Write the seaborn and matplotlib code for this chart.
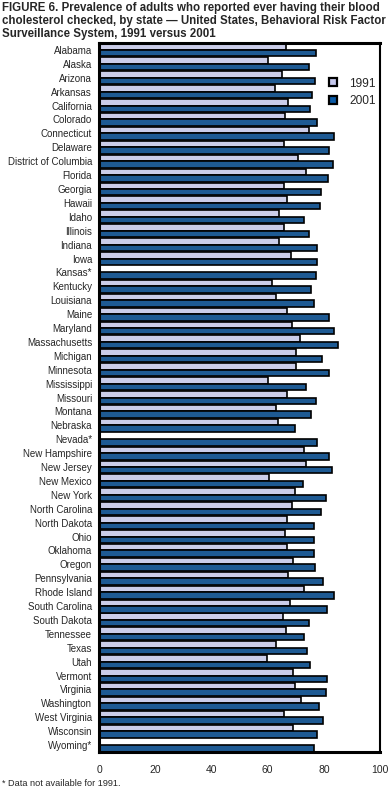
import matplotlib
matplotlib.use("Agg")
import matplotlib.pyplot as plt
import numpy as np
import pandas as pd
import seaborn as sns
from matplotlib.patches import Patch

states = ["Alabama", "Alaska", "Arizona", "Arkansas", "California", "Colorado",
          "Connecticut", "Delaware", "District of Columbia", "Florida", "Georgia",
          "Hawaii", "Idaho", "Illinois", "Indiana", "Iowa", "Kansas*", "Kentucky",
          "Louisiana", "Maine", "Maryland", "Massachusetts", "Michigan", "Minnesota",
          "Mississippi", "Missouri", "Montana", "Nebraska", "Nevada*", "New Hampshire",
          "New Jersey", "New Mexico", "New York", "North Carolina", "North Dakota",
          "Ohio", "Oklahoma", "Oregon", "Pennsylvania", "Rhode Island",
          "South Carolina", "South Dakota", "Tennessee", "Texas", "Utah", "Vermont",
          "Virginia", "Washington", "West Virginia", "Wisconsin", "Wyoming*"]

y1991 = [66.4, 60.0, 65.0, 62.5, 67.2, 66.1, 74.6, 65.7, 70.7, 73.6, 65.7,
         66.8, 64.2, 65.7, 63.9, 68.2, np.nan, 61.4, 62.9, 67.0, 68.6, 71.4,
         70.2, 70.0, 60.3, 67.0, 62.8, 63.8, np.nan, 72.8, 73.5, 60.6, 69.6,
         68.6, 67.0, 66.1, 67.0, 69.2, 67.4, 72.8, 68.1, 65.6, 66.7, 62.8,
         59.9, 68.9, 69.6, 71.8, 65.7, 68.9, np.nan]

y2001 = [77.1, 74.6, 76.8, 75.7, 75.0, 77.5, 83.5, 81.7, 83.2, 81.4, 78.9,
         78.5, 73.1, 74.6, 77.5, 77.5, 77.1, 75.3, 76.4, 81.7, 83.5, 84.9,
         79.2, 81.7, 73.5, 77.1, 75.3, 69.6, 77.5, 81.7, 82.8, 72.5, 80.7,
         78.9, 76.4, 76.4, 76.4, 76.7, 79.6, 83.5, 81.0, 74.6, 72.8, 73.9,
         75.0, 81.0, 80.7, 78.2, 79.6, 77.5, 76.4]

years = ["1991", "2001"]
colors = ["#c6c9ee", "#0b5aa6"]

df = pd.DataFrame({"state": states * 2,
                   "year": ["1991"] * len(states) + ["2001"] * len(states),
                   "pct": y1991 + y2001})

sns.set_style("white")
plt.rcParams["font.family"] = ["Liberation Sans", "DejaVu Sans"]

fig = plt.figure(figsize=(3.89, 7.91), dpi=100)
ax = fig.add_axes([0.2545, 0.0493, 0.7225, 0.8963])

sns.barplot(data=df, x="pct", y="state", hue="year", hue_order=years,
            palette=colors, orient="h", width=0.93, edgecolor="black",
            linewidth=1.2, legend=False, ax=ax)

ax.set_xlim(0, 100)
ax.set_ylim(len(states) - 0.5, -0.5)
ax.set_xticks(range(0, 101, 20))
ax.set_xticks(range(10, 100, 20), minor=True)
ax.set_xlabel("")
ax.set_ylabel("")
ax.tick_params(axis="both", which="both", direction="out", length=3, width=1.8,
               color="black", labelsize=7, pad=2)
ax.tick_params(axis="x", labelsize=7.5, pad=6)
for s in ax.spines.values():
    s.set_visible(True)
    s.set_color("black")
    s.set_linewidth(1.5)
ax.spines["top"].set_linewidth(2.2)
ax.spines["left"].set_linewidth(2.2)
ax.spines["bottom"].set_linewidth(2.2)

handles = [Patch(facecolor=c, edgecolor="black", linewidth=1.6) for c in colors]
ax.legend(handles, years, loc="upper left", bbox_to_anchor=(0.79, 0.963),
          frameon=False, fontsize=8.6, handlelength=0.65, handleheight=0.65,
          handletextpad=1.0, labelspacing=0.45, borderpad=0.2)

fig.text(0.004, 0.997,
         "FIGURE 6. Prevalence of adults who reported ever having their blood\n"
         "cholesterol checked, by state \u2014 United States, Behavioral Risk Factor\n"
         "Surveillance System, 1991 versus 2001",
         ha="left", va="top", fontsize=8.3, fontweight="bold", linespacing=1.1)
fig.text(0.005, 0.004, "* Data not available for 1991.", ha="left",
         va="bottom", fontsize=6.6)

fig.savefig("out.png", dpi=100)
